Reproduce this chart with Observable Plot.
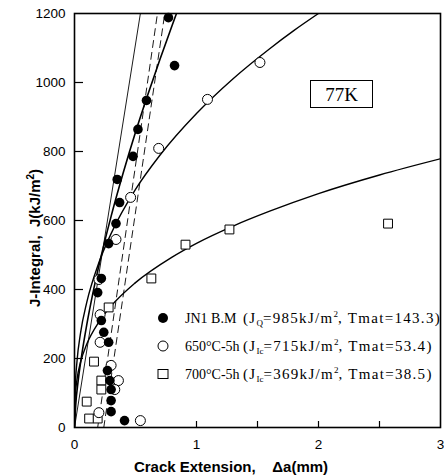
<!DOCTYPE html>
<html><head><meta charset="utf-8">
<script src="https://cdn.jsdelivr.net/npm/d3@7"></script>
<script src="https://cdn.jsdelivr.net/npm/@observablehq/plot@0.6"></script>
<style>
body{margin:0;background:#fff;}
#wrap{position:relative;width:444px;height:476px;overflow:hidden;}
.ov{position:absolute;white-space:nowrap;color:#000;}
.leg{font-family:"Liberation Serif","Times New Roman",serif;font-size:14px;line-height:16px;height:16px;}
.leg .par{font-size:15px;letter-spacing:1.3px;}
.leg sub{font-size:9px;vertical-align:-3px;line-height:0;letter-spacing:0;}
.leg sup{font-size:9px;vertical-align:6px;line-height:0;letter-spacing:0;}
.lab{font-family:"Liberation Sans",Arial,sans-serif;font-weight:bold;font-size:15px;line-height:16px;height:16px;text-align:center;}
.lab sup{font-size:10px;vertical-align:6px;line-height:0;}
</style></head><body><div id="wrap"></div>
<script>
// ---- data ----
// JN1 B.M (filled circles)
const jn1Da = [0.77,0.82,0.59,0.52,0.48,0.35,0.37,0.34,0.28,0.22,0.19,0.22,0.24,0.28,0.27,0.29,0.30,0.30,0.30,0.41];
const jn1J  = [1188,1049,948,864,786,719,652,591,533,432,391,310,276,247,165,136,110,78,46,20];
// 650°C-5h (open circles)
const c650Da = [1.52,1.09,0.69,0.46,0.34,0.20,0.21,0.21,0.30,0.36,0.33,0.20,0.54];
const c650J  = [1058,951,809,667,545,429,327,247,180,136,110,43,20];
// 700°C-5h (open squares)
const c700Da = [2.57,1.27,0.91,0.63,0.28,0.16,0.22,0.22,0.10,0.12,0.19];
const c700J  = [591,574,530,432,348,191,136,110,75,26,26];
// fitted R-curves (sampled along the drawn curves)
const fitJN1Da = [0,0.01,0.03,0.06,0.1,0.15,0.2,0.3,0.4,0.5,0.6,0.7,0.8,0.836];
const fitJN1J  = [0,65,135,212,297,388,469,612,739,856,964,1067,1165,1200];
const fit650Da = [0,0.005,0.02,0.05,0.1,0.2,0.3,0.5,0.7,1.0,1.3,1.6,1.8,2.0];
const fit650J  = [0,109,190,275,362,478,562,690,789,910,1011,1098,1151,1200];
const fit700Da = [0,0.005,0.02,0.05,0.1,0.2,0.3,0.5,0.8,1.0,1.3,1.6,2.0,2.5,3.0];
const fit700J  = [0,86,138,190,241,306,352,420,494,534,584,627,678,732,779];
// blunting line and offset (exclusion) lines
const bluntDa = [0,0.54], bluntJ = [0,1200];
const offADa = [0.19,0.68], offAJ = [0,1200];
const offBDa = [0.24,0.74], offBJ = [0,1200];
// axes
const xTickLabels = [0,1,2,3];
const xMinorTicks = [1,1.5,2,2.5];
const yTickLabels = [0,200,400,600,800,1000,1200];
const yInnerTicks = [200,400,600,800,1000];

const pts = (xs, ys) => xs.map((x,i)=>({x, y: ys[i]}));

const W=444,H=476,ML=74,MR=4,MT=13,MB=49;
const chart = Plot.plot({
  width:W, height:H, marginLeft:ML, marginRight:MR, marginTop:MT, marginBottom:MB,
  x:{domain:[0,3]}, y:{domain:[0,1200]},
  style:{fontFamily:"'Liberation Sans', Arial, sans-serif", fontSize:"13.5px", color:"#000", background:"#fff"},
  marks:[
    Plot.line(pts(bluntDa,bluntJ), {x:"x",y:"y",stroke:"#000",strokeWidth:0.9,clip:true}),
    Plot.line(pts(offADa,offAJ), {x:"x",y:"y",stroke:"#000",strokeWidth:0.9,strokeDasharray:"7,5",clip:true}),
    Plot.line(pts(offBDa,offBJ), {x:"x",y:"y",stroke:"#000",strokeWidth:0.9,strokeDasharray:"7,5",clip:true}),
    Plot.line(pts(fitJN1Da,fitJN1J), {x:"x",y:"y",stroke:"#000",strokeWidth:1.6,curve:"monotone-x",clip:true}),
    Plot.line(pts(fit650Da,fit650J), {x:"x",y:"y",stroke:"#000",strokeWidth:1.4,curve:"monotone-x",clip:true}),
    Plot.line(pts(fit700Da,fit700J), {x:"x",y:"y",stroke:"#000",strokeWidth:1.4,curve:"monotone-x",clip:true}),
    Plot.dot(pts(c700Da,c700J), {x:"x",y:"y",symbol:"square",r:5,fill:"#fff",stroke:"#000",strokeWidth:1}),
    Plot.dot(pts(c650Da,c650J), {x:"x",y:"y",r:5,fill:"#fff",stroke:"#000",strokeWidth:1}),
    Plot.dot(pts(jn1Da,jn1J), {x:"x",y:"y",r:4.8,fill:"#000",stroke:"none"}),
    Plot.tickX(xMinorTicks, {x:d=>d, insetTop:(H-MT-MB)-6, stroke:"#000", strokeWidth:1.2}),
    Plot.tickY(yInnerTicks, {y:d=>d, insetRight:(W-ML-MR)-9, stroke:"#000", strokeWidth:1.2}),
    Plot.axisX(xTickLabels, {tickSize:0, tickPadding:12, label:null, tickFormat:d=>String(d)}),
    Plot.axisY(yTickLabels, {tickSize:0, tickPadding:9, label:null, tickFormat:d=>String(d)}),
    Plot.frame({stroke:"#000", strokeWidth:1.6})
  ]
});
const wrap = document.getElementById("wrap");
wrap.appendChild(chart);

function ov(html, css, cls){
  const d=document.createElement("div");
  d.className="ov "+cls; d.innerHTML=html;
  Object.assign(d.style, css); wrap.appendChild(d); return d;
}
// legend
const legend = [
  {name:"JN1 B.M", sub:"Q", val:"985", t:"143.3", mk:"fill"},
  {name:"650&deg;C-5h", sub:"Ic", val:"715", t:"53.4", mk:"circle"},
  {name:"700&deg;C-5h", sub:"Ic", val:"369", t:"38.5", mk:"square"}
];
const legY=[318,346,374];
legend.forEach((l,i)=>{
  const cy=legY[i];
  let shape = l.mk==="fill" ? '<circle cx="7" cy="7" r="5" fill="#000"/>' :
              l.mk==="circle" ? '<circle cx="7" cy="7" r="5" fill="#fff" stroke="#000"/>' :
              '<rect x="2" y="2.5" width="10" height="9" fill="#fff" stroke="#000"/>';
  ov(`<svg width="14" height="14">${shape}</svg>`, {left:(163-7)+"px", top:(cy-7)+"px", lineHeight:"0"}, "");
  ov(`<span style="display:inline-block;width:58px">${l.name}</span><span class="par">(J<sub>${l.sub}</sub>=${l.val}kJ/m<sup>2</sup>, Tmat=${l.t})</span>`,
     {left:"185px", top:(cy-8)+"px"}, "leg");
});
// 77K box
ov("77K", {left:"310px", top:"80px", width:"61px", height:"26px", border:"1px solid #000",
  fontFamily:"'Liberation Serif',serif", fontSize:"19px", lineHeight:"27px", textAlign:"center"}, "");
// axis labels
ov("Crack Extension,&nbsp;&nbsp;&nbsp; &Delta;a(mm)", {left:(231-150)+"px", top:(467-8)+"px", width:"300px"}, "lab");
ov("J-Integral,&nbsp; J(kJ/m<sup>2</sup>)", {left:(35-150)+"px", top:(238-8)+"px", width:"300px", transform:"rotate(-90deg)"}, "lab");
</script>
</body></html>
